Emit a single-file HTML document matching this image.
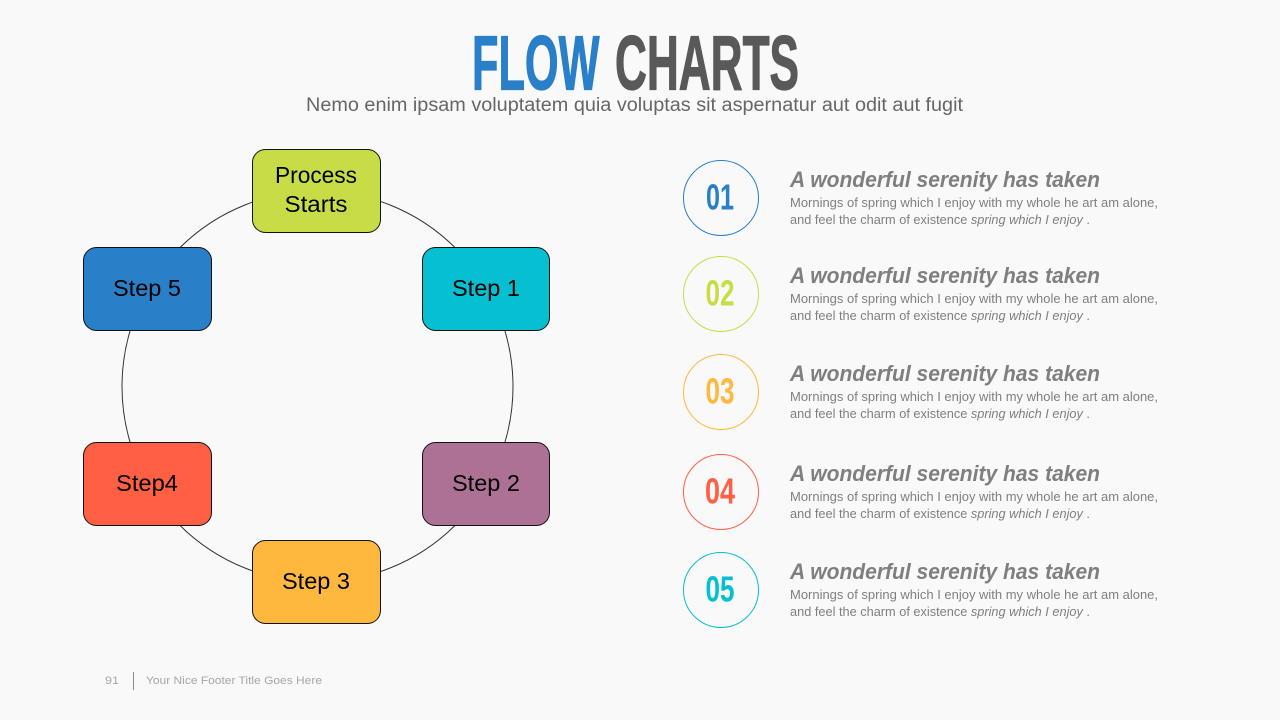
<!DOCTYPE html>
<html><head><meta charset="utf-8"><style>html,body{margin:0;padding:0;background:#f9f9f9}svg{display:block}text{font-family:"Liberation Sans",sans-serif}</style></head><body>
<svg width="1280" height="720" viewBox="0 0 1280 720" xmlns="http://www.w3.org/2000/svg">
<rect width="1280" height="720" fill="#f9f9f9"/>
<text x="472" y="89.500" font-size="77" font-weight="700" fill="#2a7fc9" stroke="#2a7fc9" stroke-width="1.200" textLength="127.500" lengthAdjust="spacingAndGlyphs" style="font-family:'Liberation Sans Narrow','Liberation Sans',sans-serif">FLOW</text>
<text x="615" y="89.500" font-size="77" font-weight="700" fill="#595959" stroke="#595959" stroke-width="1.200" textLength="184" lengthAdjust="spacingAndGlyphs" style="font-family:'Liberation Sans Narrow','Liberation Sans',sans-serif">CHARTS</text>
<text x="306" y="111" font-size="19" fill="#666" textLength="657" lengthAdjust="spacingAndGlyphs">Nemo enim ipsam voluptatem quia voluptas sit aspernatur aut odit aut fugit</text>
<circle cx="317.5" cy="386.5" r="195.5" fill="none" stroke="#333" stroke-width="1"/>
<g stroke="#111" stroke-width="1">
<rect x="252.500" y="149.500" width="128" height="83" rx="13" fill="#c8dc48"/>
<rect x="422.500" y="247.500" width="127" height="83" rx="13" fill="#06bfd0"/>
<rect x="83.500" y="247.500" width="128" height="83" rx="13" fill="#2a7fc9"/>
<rect x="422.500" y="442.500" width="127" height="83" rx="13" fill="#ae7196"/>
<rect x="83.500" y="442.500" width="128" height="83" rx="13" fill="#ff6044"/>
<rect x="252.500" y="540.500" width="128" height="83" rx="13" fill="#ffb83e"/>
</g>
<g font-size="23" fill="#000" text-anchor="middle">
<text x="316" y="183" textLength="82" lengthAdjust="spacingAndGlyphs">Process</text>
<text x="316" y="212" textLength="63" lengthAdjust="spacingAndGlyphs">Starts</text>
<text x="486" y="296" textLength="68" lengthAdjust="spacingAndGlyphs">Step 1</text>
<text x="147" y="296" textLength="68" lengthAdjust="spacingAndGlyphs">Step 5</text>
<text x="486" y="491" textLength="68" lengthAdjust="spacingAndGlyphs">Step 2</text>
<text x="147" y="491" textLength="62" lengthAdjust="spacingAndGlyphs">Step4</text>
<text x="316" y="589" textLength="68" lengthAdjust="spacingAndGlyphs">Step 3</text>
</g>
<g fill="none" stroke-width="1">
<circle cx="721" cy="198" r="37.500" stroke="#2a7fc9"/>
<circle cx="721" cy="294" r="37.500" stroke="#c8dc48"/>
<circle cx="721" cy="392" r="37.500" stroke="#ffb83e"/>
<circle cx="721" cy="492" r="37.500" stroke="#ff6044"/>
<circle cx="721" cy="590" r="37.500" stroke="#06bfd0"/>
</g>
<g font-size="36" font-weight="700" text-anchor="middle" style="font-family:'Liberation Sans Narrow','Liberation Sans',sans-serif">
<text x="720" y="209.500" fill="#2a7fc9" textLength="28" lengthAdjust="spacingAndGlyphs" style="font-family:inherit">01</text>
<text x="720" y="305.500" fill="#c8dc48" textLength="29" lengthAdjust="spacingAndGlyphs" style="font-family:inherit">02</text>
<text x="720" y="403.500" fill="#ffb83e" textLength="29" lengthAdjust="spacingAndGlyphs" style="font-family:inherit">03</text>
<text x="720" y="503.500" fill="#ff6044" textLength="30" lengthAdjust="spacingAndGlyphs" style="font-family:inherit">04</text>
<text x="720" y="601.500" fill="#06bfd0" textLength="29" lengthAdjust="spacingAndGlyphs" style="font-family:inherit">05</text>
</g>
<g fill="#7f7f7f">
<g><text x="790" y="187" font-size="22" font-weight="700" font-style="italic" textLength="310" lengthAdjust="spacingAndGlyphs">A wonderful serenity has taken</text><text x="790" y="207" font-size="12.500" textLength="368" lengthAdjust="spacingAndGlyphs">Mornings of spring which I enjoy with my whole he art am alone,</text><text x="790" y="224" font-size="12.500" textLength="300" lengthAdjust="spacingAndGlyphs">and feel the charm of existence <tspan font-style="italic">spring which I enjoy</tspan> .</text></g>
<g><text x="790" y="283" font-size="22" font-weight="700" font-style="italic" textLength="310" lengthAdjust="spacingAndGlyphs">A wonderful serenity has taken</text><text x="790" y="303" font-size="12.500" textLength="368" lengthAdjust="spacingAndGlyphs">Mornings of spring which I enjoy with my whole he art am alone,</text><text x="790" y="320" font-size="12.500" textLength="300" lengthAdjust="spacingAndGlyphs">and feel the charm of existence <tspan font-style="italic">spring which I enjoy</tspan> .</text></g>
<g><text x="790" y="381" font-size="22" font-weight="700" font-style="italic" textLength="310" lengthAdjust="spacingAndGlyphs">A wonderful serenity has taken</text><text x="790" y="401" font-size="12.500" textLength="368" lengthAdjust="spacingAndGlyphs">Mornings of spring which I enjoy with my whole he art am alone,</text><text x="790" y="418" font-size="12.500" textLength="300" lengthAdjust="spacingAndGlyphs">and feel the charm of existence <tspan font-style="italic">spring which I enjoy</tspan> .</text></g>
<g><text x="790" y="481" font-size="22" font-weight="700" font-style="italic" textLength="310" lengthAdjust="spacingAndGlyphs">A wonderful serenity has taken</text><text x="790" y="501" font-size="12.500" textLength="368" lengthAdjust="spacingAndGlyphs">Mornings of spring which I enjoy with my whole he art am alone,</text><text x="790" y="518" font-size="12.500" textLength="300" lengthAdjust="spacingAndGlyphs">and feel the charm of existence <tspan font-style="italic">spring which I enjoy</tspan> .</text></g>
<g><text x="790" y="579" font-size="22" font-weight="700" font-style="italic" textLength="310" lengthAdjust="spacingAndGlyphs">A wonderful serenity has taken</text><text x="790" y="599" font-size="12.500" textLength="368" lengthAdjust="spacingAndGlyphs">Mornings of spring which I enjoy with my whole he art am alone,</text><text x="790" y="616" font-size="12.500" textLength="300" lengthAdjust="spacingAndGlyphs">and feel the charm of existence <tspan font-style="italic">spring which I enjoy</tspan> .</text></g>
</g>
<text x="105" y="684" font-size="11" fill="#a6a6a6" textLength="14" lengthAdjust="spacingAndGlyphs">91</text>
<line x1="133.500" y1="672" x2="133.500" y2="690" stroke="#8c8c8c" stroke-width="1"/>
<text x="146" y="684" font-size="11" fill="#a6a6a6" textLength="176" lengthAdjust="spacingAndGlyphs">Your Nice Footer Title Goes Here</text>
</svg>
</body></html>
